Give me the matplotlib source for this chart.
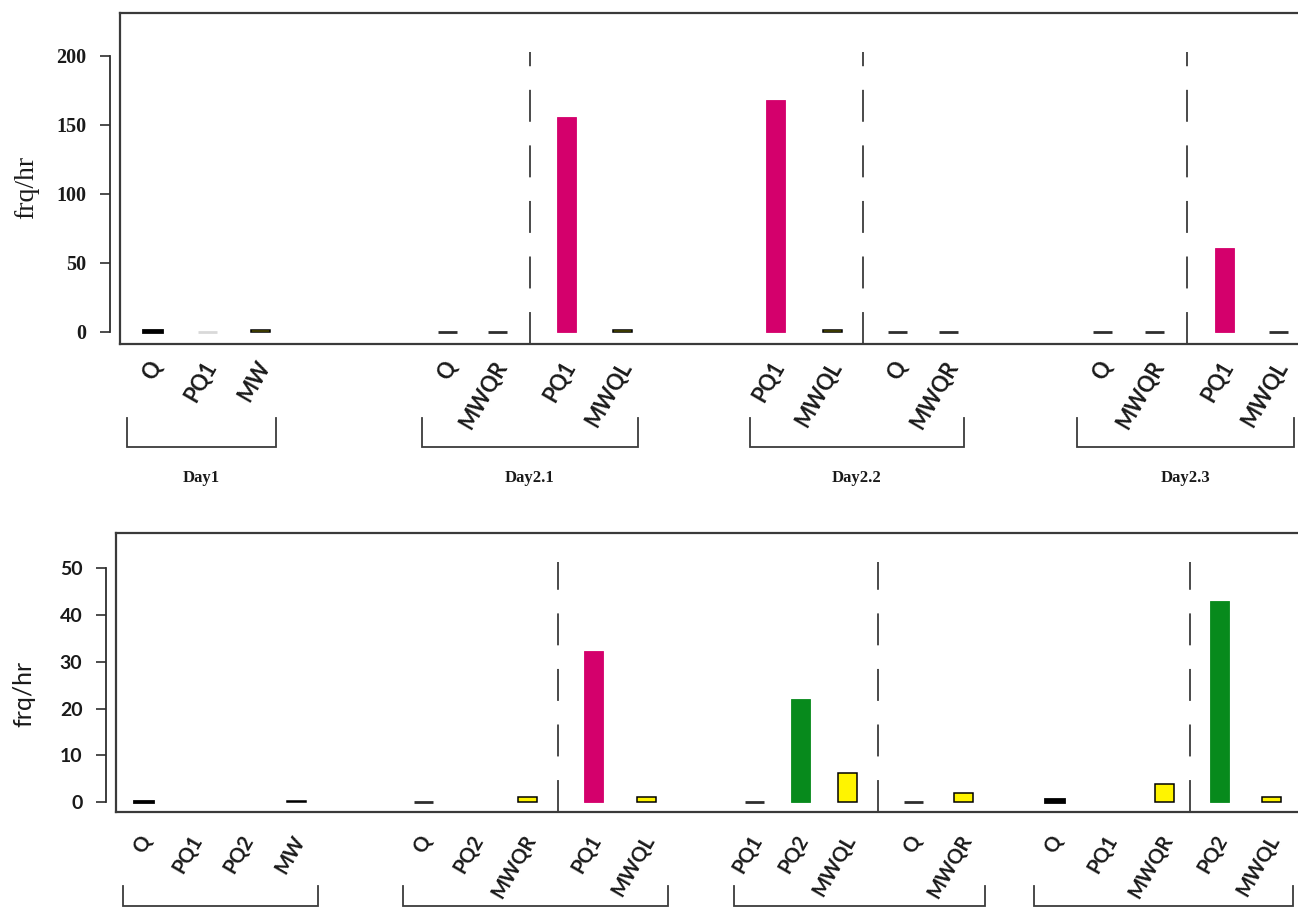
import numpy as np
import matplotlib
matplotlib.use("Agg")
import matplotlib.pyplot as plt
from matplotlib.transforms import blended_transform_factory, ScaledTranslation

# ---------------- data ----------------
groups = ["Day1", "Day2.1", "Day2.2", "Day2.3"]

top_labels = ["Q", "PQ1", "MW",
              "Q", "MWQR", "PQ1", "MWQL",
              "PQ1", "MWQL", "Q", "MWQR",
              "Q", "MWQR", "PQ1", "MWQL"]
top_group = [0, 0, 0, 1, 1, 1, 1, 2, 2, 2, 2, 3, 3, 3, 3]
top_values = [1.5, 0, 1.5,
              0, 0, 155.5, 1.5,
              168, 1.5, 0, 0,
              0, 0, 61, 0]
top_yticks = [0, 50, 100, 150, 200]

nan = np.nan
bot_labels = ["Q", "PQ1", "PQ2", "MW",
              "Q", "PQ2", "MWQR", "PQ1", "MWQL",
              "PQ1", "PQ2", "MWQL", "Q", "MWQR",
              "Q", "PQ1", "MWQR", "PQ2", "MWQL"]
bot_group = [0, 0, 0, 0, 1, 1, 1, 1, 1, 2, 2, 2, 2, 2, 3, 3, 3, 3, 3]
bot_values = [0.3, nan, nan, 0.3,
              0, nan, 1.2, 32.2, 1.2,
              0, 22, 6.3, 0, 2.0,
              0.7, nan, 3.8, 43, 1.2]
bot_yticks = [0, 10, 20, 30, 40, 50]

ylabel = "frq/hr"

# ---------------- layout (figure pixel columns) ----------------
top_pos = [152, 207, 260, 447, 497, 566, 622, 775, 832, 897, 948, 1102, 1154, 1224, 1278]
top_div_after = [4, 8, 12]          # dashed divider between bar i and i+1
top_faint = [1]                     # zero bar drawn in light grey
bot_pos = [143, 194, 245, 296, 423, 475, 527, 593, 646, 754, 800, 847, 913, 963,
           1054, 1109, 1164, 1219, 1271]
bot_div_after = [6, 11, 16]

W, H = 1298, 909
DPI = 100

MAGENTA = "#D4006C"
GREEN = "#078A1C"
YELLOW = "#FFF400"
DARK = "#2e2e2e"
BOX = "#3a3a3a"
TXT = "#1a1a1a"

SERIF = "Liberation Serif"
SANS = "Lato"

plt.rcParams["lines.scale_dashes"] = False


def face_of(lbl):
    if lbl == "Q":
        return "black"
    if lbl == "PQ1":
        return MAGENTA
    if lbl == "PQ2":
        return GREEN
    return YELLOW


def edge_of(lbl, v):
    if v == 0:
        return DARK
    if lbl in ("PQ1", "PQ2"):
        return face_of(lbl)
    return "black"


fig = plt.figure(figsize=(W / DPI, H / DPI), dpi=DPI)
fig.patch.set_facecolor("white")


def make_panel(px_left, px_top, px_bottom, px_right, labels, groups_idx, values,
               pos, div_after, yticks, ylim, div_top, tick_font, tick_size,
               ylab_font, ylab_size, ylab_xy, label_pad_px, label_dx_px,
               label_size, bracket_y_px, bracket_pad, group_label_y_px,
               faint=()):
    ax = fig.add_axes([px_left / W, 1 - px_bottom / H,
                       (px_right - px_left) / W, (px_bottom - px_top) / H])
    ax.set_xlim(px_left, px_right)
    ax.set_ylim(*ylim)
    ax.set_facecolor("white")

    # bars
    for i, (lbl, v, x) in enumerate(zip(labels, values, pos)):
        if np.isnan(v):
            continue
        ec = edge_of(lbl, v)
        lw = 2.0 if (v == 0 or lbl == "Q") else (1.1 if lbl.startswith("MW") else 0.6)
        if i in faint:
            ec = "#d9d9d9"
        ax.bar(x, v, width=19, color=face_of(lbl), edgecolor=ec, linewidth=lw,
               zorder=3)

    # dashed dividers (drawn bottom-up so the dash pattern starts at the axis)
    for i in div_after:
        xd = (pos[i] + pos[i + 1]) / 2 - 2
        ax.plot([xd, xd], [ylim[0], div_top], color="#3c3c3c", lw=1.3,
                dashes=(23, 17), zorder=2, clip_on=False)

    # frame: top, right, bottom spines + left edge line
    for s in ("top", "right", "bottom"):
        ax.spines[s].set_color(BOX)
        ax.spines[s].set_linewidth(1.6)
    ax.plot([0, 0], [0, 1], transform=ax.transAxes, color=BOX, lw=1.6,
            clip_on=False, zorder=5)

    # R-style detached y axis
    ax.spines["left"].set_position(("outward", 7.0))
    ax.spines["left"].set_bounds(yticks[0], yticks[-1])
    ax.spines["left"].set_color(DARK)
    ax.spines["left"].set_linewidth(1.3)
    ax.set_yticks(yticks)
    ax.set_yticklabels([str(t) for t in yticks], fontfamily=tick_font,
                       fontsize=tick_size, fontweight="bold", color=TXT)
    ax.tick_params(axis="y", direction="out", length=7.2, width=1.2,
                   color=DARK, pad=10.0)

    # rotated category labels
    ax.set_xticks(pos)
    ax.set_xticklabels(labels, rotation=60, ha="right", va="center",
                       rotation_mode="anchor", fontfamily=SANS,
                       fontsize=label_size, fontweight="bold", color=TXT)
    ax.tick_params(axis="x", length=0, pad=label_pad_px * 72 / DPI)
    off = ScaledTranslation(label_dx_px / DPI, 0, fig.dpi_scale_trans)
    for t in ax.get_xticklabels():
        t.set_transform(t.get_transform() + off)

    # y label
    ax.text(ylab_xy[0], ylab_xy[1], ylabel, transform=fig.transFigure,
            rotation=90, ha="center", va="center", fontfamily=ylab_font,
            fontsize=ylab_size, color=TXT)

    # group brackets
    trans = blended_transform_factory(ax.transData, fig.transFigure)
    y_hi = 1 - bracket_y_px[0] / H
    y_lo = 1 - bracket_y_px[1] / H
    for g, name in enumerate(groups):
        xs = [p for p, gi in zip(pos, groups_idx) if gi == g]
        xl, xr = xs[0] - bracket_pad[0], xs[-1] + bracket_pad[1]
        ax.plot([xl, xl, xr, xr], [y_hi, y_lo, y_lo, y_hi], transform=trans,
                color="#3c3c3c", lw=1.3, clip_on=False, solid_joinstyle="miter")
        if group_label_y_px is not None:
            ax.text((xl + xr) / 2, 1 - group_label_y_px / H, name,
                    transform=trans, ha="center", va="center",
                    fontfamily=SERIF, fontsize=12, fontweight="bold", color=TXT)
    return ax


# top panel
make_panel(120, 13, 344, 1310, top_labels, top_group, top_values, top_pos,
           top_div_after, top_yticks, (-8.9, 231), 203,
           SERIF, 14.5, SERIF, 20, (27 / W, 1 - 187 / H),
           label_pad_px=19, label_dx_px=5, label_size=15.5,
           bracket_y_px=(418, 447), bracket_pad=(25, 16),
           group_label_y_px=478, faint=top_faint)

# bottom panel
make_panel(116, 533, 812, 1310, bot_labels, bot_group, bot_values, bot_pos,
           bot_div_after, bot_yticks, (-2.1, 57.5), 51.3,
           SANS, 14, SANS, 18, (24 / W, 1 - 694 / H),
           label_pad_px=25, label_dx_px=4, label_size=14.5,
           bracket_y_px=(886, 906), bracket_pad=(20, 22),
           group_label_y_px=None)

fig.savefig("out.png", dpi=DPI, facecolor="white")
